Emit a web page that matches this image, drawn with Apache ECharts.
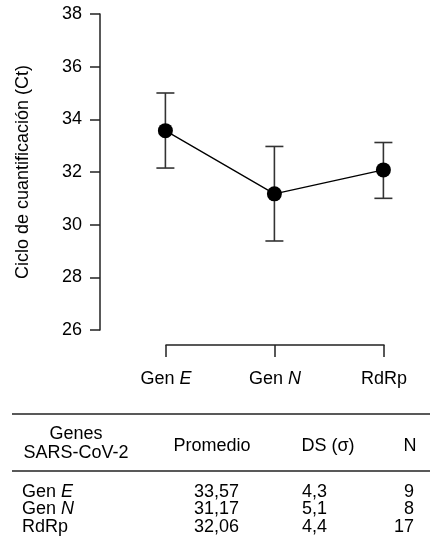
<!DOCTYPE html>
<html>
<head>
<meta charset="utf-8">
<script src="https://cdn.jsdelivr.net/npm/echarts@6/dist/echarts.min.js"></script>
<style>
  html, body { margin: 0; padding: 0; background: #fff; }
  #chart { width: 430px; height: 547px; }
</style>
</head>
<body>
<div id="chart"></div>
<script>
var categories = ['Gen E', 'Gen N', 'RdRp'];
var catName = ['Gen ', 'Gen ', 'RdRp'];
var catItalic = ['E', 'N', ''];
var means = [33.57, 31.17, 32.08];
var lower = [32.15, 29.38, 31.0];
var upper = [35.0, 32.97, 33.12];
var yTicks = [26, 28, 30, 32, 34, 36, 38];

// tabla
var tablePromedio = ['33,57', '31,17', '32,06'];
var tableDS = ['4,3', '5,1', '4,4'];
var tableN = ['9', '8', '17'];
var rowY = [492, 509, 527];

var FONT = '"Liberation Sans", Arial, Helvetica, sans-serif';
var INK = '#000';
var chart = echarts.init(document.getElementById('chart'));

var lineData = means.map(function (m, i) { return [i, m]; });
var errData = means.map(function (m, i) { return [i, lower[i], upper[i]]; });

function geneLabel(i) {
    return '{n|' + catName[i] + '}' + (catItalic[i] ? '{i|' + catItalic[i] + '}' : '');
}
var richText = {
    n: { fontFamily: FONT, fontSize: 18, color: INK },
    i: { fontFamily: FONT, fontSize: 18, fontStyle: 'italic', color: INK }
};

var graphics = [];
graphics.push({ type: 'line', shape: { x1: 12, y1: 414, x2: 430, y2: 414 }, style: { stroke: '#222', lineWidth: 1.5 } });
graphics.push({ type: 'line', shape: { x1: 12, y1: 471, x2: 430, y2: 471 }, style: { stroke: '#222', lineWidth: 1.5 } });
graphics.push({ type: 'text', style: { x: 76, y: 444, text: 'Genes\nSARS-CoV-2', align: 'center', verticalAlign: 'middle', lineHeight: 19, font: '18px ' + FONT, fill: INK } });
graphics.push({ type: 'text', style: { x: 212, y: 446, text: 'Promedio', align: 'center', verticalAlign: 'middle', font: '18px ' + FONT, fill: INK } });
graphics.push({ type: 'text', style: { x: 328, y: 446, text: 'DS (σ)', align: 'center', verticalAlign: 'middle', font: '18px ' + FONT, fill: INK } });
graphics.push({ type: 'text', style: { x: 410, y: 446, text: 'N', align: 'center', verticalAlign: 'middle', font: '18px ' + FONT, fill: INK } });
for (var r = 0; r < categories.length; r++) {
    graphics.push({ type: 'text', style: { x: 22, y: rowY[r], text: geneLabel(r), rich: richText, align: 'left', verticalAlign: 'middle' } });
    graphics.push({ type: 'text', style: { x: 239, y: rowY[r], text: tablePromedio[r], align: 'right', verticalAlign: 'middle', font: '18px ' + FONT, fill: INK } });
    graphics.push({ type: 'text', style: { x: 327, y: rowY[r], text: tableDS[r], align: 'right', verticalAlign: 'middle', font: '18px ' + FONT, fill: INK } });
    graphics.push({ type: 'text', style: { x: 414, y: rowY[r], text: tableN[r], align: 'right', verticalAlign: 'middle', font: '18px ' + FONT, fill: INK } });
}

var option = {
    animation: false,
    backgroundColor: '#fff',
    textStyle: { fontFamily: FONT },
    grid: [
        { left: 100, right: 3, top: 14, bottom: 217 },
        { left: 166, right: 46, top: 300, bottom: 202 }
    ],
    xAxis: [
        { type: 'value', gridIndex: 0, min: -0.6, max: 2.4, show: false },
        {
            type: 'category', gridIndex: 1, data: categories, boundaryGap: false,
            axisLine: { lineStyle: { color: '#222', width: 1.5 } },
            axisTick: { length: 12, lineStyle: { color: '#222', width: 1.5 } },
            axisLabel: {
                margin: 25,
                formatter: function (v, i) { return geneLabel(i); },
                rich: richText
            }
        }
    ],
    yAxis: [
        {
            type: 'value', gridIndex: 0, min: 26, max: 38, interval: 2,
            name: 'Ciclo de cuantificación (Ct)', nameLocation: 'middle', nameGap: 68,
            nameTextStyle: { fontFamily: FONT, fontSize: 18, color: INK },
            axisLine: { show: true, onZero: false, lineStyle: { color: '#222', width: 1.5 } },
            axisTick: { show: true, length: 10, lineStyle: { color: '#222', width: 1.5 } },
            axisLabel: {
                margin: 18, fontFamily: FONT, fontSize: 18, color: INK,
                customValues: yTicks
            },
            splitLine: { show: false }
        },
        { type: 'value', gridIndex: 1, show: false }
    ],
    series: [
        {
            type: 'custom',
            xAxisIndex: 0, yAxisIndex: 0,
            data: errData,
            z: 2,
            renderItem: function (params, api) {
                var x = api.value(0);
                var lo = api.coord([x, api.value(1)]);
                var hi = api.coord([x, api.value(2)]);
                var hw = 9;
                var st = { stroke: '#333', lineWidth: 1.6 };
                return {
                    type: 'group',
                    children: [
                        { type: 'line', shape: { x1: hi[0], y1: hi[1], x2: lo[0], y2: lo[1] }, style: st },
                        { type: 'line', shape: { x1: hi[0] - hw, y1: hi[1], x2: hi[0] + hw, y2: hi[1] }, style: st },
                        { type: 'line', shape: { x1: lo[0] - hw, y1: lo[1], x2: lo[0] + hw, y2: lo[1] }, style: st }
                    ]
                };
            }
        },
        {
            type: 'line',
            xAxisIndex: 0, yAxisIndex: 0,
            data: lineData,
            z: 3,
            symbol: 'circle',
            symbolSize: 15,
            itemStyle: { color: '#000' },
            lineStyle: { color: '#000', width: 1.3 }
        }
    ],
    graphic: graphics
};

chart.setOption(option);
</script>
</body>
</html>
